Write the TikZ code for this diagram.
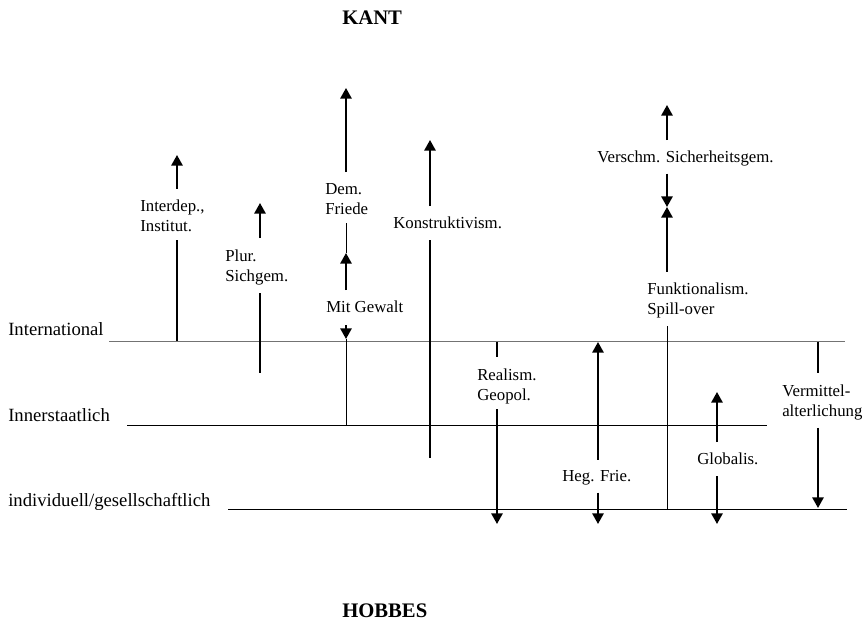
\documentclass[tikz,border=0pt]{standalone}
\usepackage{fontspec}
\setmainfont{Liberation Serif}
\usetikzlibrary{arrows.meta}

\tikzset{
  txt/.style={inner sep=0, align=left, anchor=west, font=\fontsize{12.6}{15}\selectfont},
  einzeil/.style={txt, anchor=base west},
  ebene/.style={inner sep=0, anchor=base west, font=\fontsize{14}{16}\selectfont},
  titel/.style={inner sep=0, anchor=base west, font=\fontsize{15.5}{18}\selectfont\bfseries},
  pfeil/.style={line width=1.4pt, -{Triangle[width=8.5pt,length=8pt]}},
  strich/.style={line width=1.4pt},
  duenn/.style={line width=0.55pt},
  ebline/.style={line width=0.65pt},
  oben/.style={shorten <=8.25pt},
  unten/.style={shorten >=6pt},
}

\begin{document}
\begin{tikzpicture}[x=0.75pt,y=-0.75pt]
  \useasboundingbox (0,0) rectangle (865,623);
  \node[titel] (kant) at (342,25) {KANT};
  \node[titel] (hobbes) at (342,618) {HOBBES};

  % Ebenen
  \node[ebene] (intl) at (8,336) {International};
  \node[ebene] (inner) at (8,422) {Innerstaatlich};
  \node[ebene] (indiv) at (8,507) {individuell/gesellschaftlich};
  \coordinate (intl-e) at (845,341);
  \coordinate (inner-e) at (767,425);
  \coordinate (indiv-e) at (847,509);
  \draw[ebline, black!55, shorten <=4.2pt] (intl.east |- intl-e) -- (intl-e);
  \draw[ebline, shorten <=13pt] (inner.east |- inner-e) -- (inner-e);
  \draw[ebline, shorten <=13pt] (indiv.east |- indiv-e) -- (indiv-e);

  % Interdep.
  \node[txt] (interdep) at (140,216) {Interdep.,\\Institut.};
  \coordinate (interdep-u) at (177,341);
  \coordinate (interdep-o) at (177,155);
  \draw[strich, unten] (interdep-u) -- (interdep.south -| interdep-u);
  \draw[pfeil, oben] (interdep.north -| interdep-o) -- (interdep-o);

  % Plur.
  \node[txt] (plur) at (225,267) {Plur.\\Sichgem.};
  \coordinate (plur-u) at (260,373);
  \coordinate (plur-o) at (260,203);
  \draw[strich, unten] (plur-u) -- (plur.south -| plur-u);
  \draw[pfeil, oben] (plur.north -| plur-o) -- (plur-o);

  % Dem. Friede / Mit Gewalt
  \node[txt] (dem) at (325,199) {Dem.\\Friede};
  \node[einzeil] (gewalt) at (326,313) {Mit Gewalt};
  \coordinate (dem-u) at (346,425);
  \coordinate (dem-m) at (346,339);
  \coordinate (dem-p) at (346,253);
  \coordinate (dem-o) at (346,88);
  \draw[duenn] (dem-u) -- (dem-m);
  \draw[pfeil, shorten <=9pt] (gewalt.south -| dem-m) -- (dem-m);
  \draw[pfeil, oben] (gewalt.north -| dem-p) -- (dem-p);
  \draw[duenn, unten] (dem-p) -- (dem.south -| dem-p);
  \draw[pfeil, oben] (dem.north -| dem-o) -- (dem-o);

  % Konstruktivism.
  \node[einzeil] (konst) at (393,229) {Konstruktivism.};
  \coordinate (konst-u) at (430,458);
  \coordinate (konst-o) at (430,140);
  \draw[strich, shorten >=8pt] (konst-u) -- (konst.south -| konst-u);
  \draw[pfeil, oben] (konst.north -| konst-o) -- (konst-o);

  % Realism.
  \node[txt] (realism) at (477,386) {Realism.\\Geopol.};
  \coordinate (realism-o) at (497,342);
  \coordinate (realism-u) at (497,524);
  \draw[strich, shorten >=8.25pt] (realism-o) -- (realism.north -| realism-o);
  \draw[pfeil, shorten <=4pt] (realism.south -| realism-u) -- (realism-u);

  % Heg. Frie.
  \node[einzeil] (heg) at (562,482) {Heg. Frie.};
  \coordinate (heg-o) at (598,342);
  \coordinate (heg-u) at (598,524);
  \draw[pfeil, oben] (heg.north -| heg-o) -- (heg-o);
  \draw[pfeil, shorten <=5pt] (heg.south -| heg-u) -- (heg-u);

  % Funktionalism. / Verschm.
  \node[txt] (funk) at (647,300.5) {Funktionalism.\\Spill-over};
  \node[einzeil] (verschm) at (597,163) {Verschm. Sicherheitsgem.};
  \coordinate (funk-u) at (667,509);
  \coordinate (funk-m) at (667,207);
  \coordinate (funk-o) at (667,105);
  \draw[duenn, unten] (funk-u) -- (funk.south -| funk-u);
  \draw[pfeil, oben] (funk.north -| funk-m) -- (funk-m);
  \draw[pfeil, shorten <=5pt] (verschm.south -| funk-m) -- (funk-m);
  \draw[pfeil, oben] (verschm.north -| funk-o) -- (funk-o);

  % Globalis.
  \node[einzeil] (global) at (697,465) {Globalis.};
  \coordinate (global-o) at (717,392);
  \coordinate (global-u) at (717,524);
  \draw[pfeil, oben] (global.north -| global-o) -- (global-o);
  \draw[pfeil, shorten <=8pt] (global.south -| global-u) -- (global-u);

  % Vermittel-
  \node[txt] (verm) at (782,402) {Vermittel-\\alterlichung};
  \coordinate (verm-o) at (818,342);
  \coordinate (verm-u) at (818,508);
  \draw[strich, shorten >=8.25pt] (verm-o) -- (verm.north -| verm-o);
  \draw[pfeil, shorten <=6pt] (verm.south -| verm-u) -- (verm-u);
\end{tikzpicture}
\end{document}
